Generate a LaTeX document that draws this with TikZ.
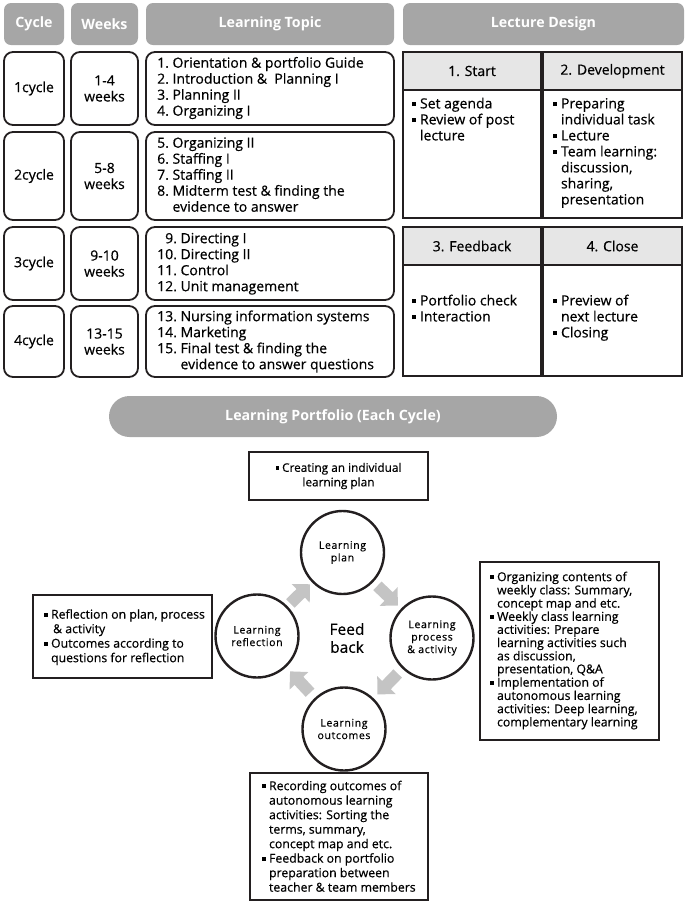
\documentclass[tikz,border=0pt]{standalone}
\usepackage{fontspec}
\setmainfont{Open Sans}[UprightFeatures={FakeBold=0.5}]
\usetikzlibrary{arrows.meta,calc}
\definecolor{hdrgray}{HTML}{A6A6A6}
\definecolor{bandgray}{HTML}{E6E6E6}
\definecolor{arrgray}{HTML}{C4C4C4}
\definecolor{ink}{HTML}{231F20}
\newcommand\bul{\raisebox{0.3ex}{\rule{0.3em}{0.3em}}}
\newcommand\topf{\fontsize{14}{16}\selectfont}
\newcommand\lowf{\fontsize{12.3}{14.5}\selectfont}
\begin{document}
\begin{tikzpicture}[x=1pt,y=-1pt,
  hdr/.style={fill=hdrgray, rounded corners=7pt, text=white, font=\bfseries\fontsize{14.2}{16}\selectfont, inner sep=0pt},
  cell/.style={draw=ink, line width=1.8pt, rounded corners=9pt, font=\topf, align=center, inner sep=0pt},
  band/.style={draw=ink, line width=1.6pt, fill=bandgray, font=\topf, inner sep=0pt},
  body/.style={draw=ink, line width=1.6pt, inner sep=0pt},
  txt/.style={inner sep=0pt, anchor=west, align=left},
  pbox/.style={draw=ink, line width=1.5pt, inner sep=0pt},
  circ/.style={circle, draw=ink, line width=2.4pt, minimum size=83pt, inner sep=0pt, align=center,
    font=\addfontfeatures{LetterSpace=6,FakeBold=1.2}\fontsize{10.5}{12.5}\selectfont},
  blk/.style={arrgray, line width=12pt, -{Triangle[width=25pt,length=13pt]}}
]
\useasboundingbox (0,0) rectangle (686,906);

% header row
\node[hdr, minimum width=60pt, minimum height=42pt] (hcyc) at (34,24) {Cycle};
\node[hdr, minimum width=67pt, minimum height=42pt] (hwk) at (104.5,24) {Weeks};
\node[hdr, minimum width=248pt, minimum height=42pt] (htop) at (270,24) {Learning Topic};
\node[hdr, minimum width=281pt, minimum height=42pt] (hlec) at (543.5,24) {Lecture Design};

% rows
\node[cell, minimum width=60pt, minimum height=73pt] (c1) at (34,88.5) {1cycle};
\node[cell, minimum width=67pt, minimum height=73pt] (w1) at (104.5,88.5) {1-4\\weeks};
\node[cell, minimum width=248pt, minimum height=73pt] (t1) at (270,88.5) {};
\node[txt] (t1x) at (157,88.5) {\topf\begin{tabular}{@{}r@{\ }l@{}}
1. & Orientation \& portfolio Guide\\
2. & Introduction \&\ \ Planning I\\
3. & Planning II\\
4. & Organizing I
\end{tabular}};

\node[cell, minimum width=60pt, minimum height=88pt] (c2) at (34,176) {2cycle};
\node[cell, minimum width=67pt, minimum height=88pt] (w2) at (104.5,176) {5-8\\weeks};
\node[cell, minimum width=248pt, minimum height=88pt] (t2) at (270,176) {};
\node[txt] (t2x) at (157,176.5) {\topf\begin{tabular}{@{}r@{\ }l@{}}
5. & Organizing II\\
6. & Staffing I\\
7. & Staffing II\\
8. & Midterm test \& finding the\\
 & evidence to answer
\end{tabular}};

\node[cell, minimum width=60pt, minimum height=73pt] (c3) at (34,263.5) {3cycle};
\node[cell, minimum width=67pt, minimum height=73pt] (w3) at (104.5,263.5) {9-10\\weeks};
\node[cell, minimum width=248pt, minimum height=73pt] (t3) at (270,263.5) {};
\node[txt] (t3x) at (157,264) {\topf\begin{tabular}{@{}r@{\ }l@{}}
9. & Directing I\\
10. & Directing II\\
11. & Control\\
12. & Unit management
\end{tabular}};

\node[cell, minimum width=60pt, minimum height=71pt] (c4) at (34,341.5) {4cycle};
\node[cell, minimum width=67pt, minimum height=71pt] (w4) at (104.5,341.5) {13-15\\weeks};
\node[cell, minimum width=248pt, minimum height=71pt] (t4) at (270,341.5) {};
\node[txt] (t4x) at (157,342) {\topf\begin{tabular}{@{}r@{\ }l@{}}
13. & Nursing information systems\\
14. & Marketing\\
15. & Final test \& finding the\\
 & evidence to answer questions
\end{tabular}};

% lecture design
\node[body, minimum width=138pt, minimum height=128pt] (sb) at (472,154) {};
\node[band, minimum width=138pt, minimum height=38pt] (sh) at (472,71) {1. Start};
\node[body, minimum width=139pt, minimum height=128pt] (db) at (612.5,154) {};
\node[band, minimum width=139pt, minimum height=38pt] (dh) at (612.5,71) {2. Development};
\node[body, minimum width=138pt, minimum height=111pt] (fb) at (472,320.5) {};
\node[band, minimum width=138pt, minimum height=38pt] (fh) at (472,246) {3. Feedback};
\node[body, minimum width=139pt, minimum height=111pt] (cb) at (612.5,320.5) {};
\node[band, minimum width=139pt, minimum height=38pt] (ch) at (612.5,246) {4. Close};

\node[txt, anchor=north west] (sx) at (412,97) {\topf\begin{tabular}{@{}l@{\ }l@{}}
\bul & Set agenda\\
\bul & Review of post\\
 & lecture
\end{tabular}};
\node[txt, anchor=north west] (dx) at (553,97) {\topf\begin{tabular}{@{}l@{\ }l@{}}
\bul & Preparing\\
 & individual task\\
\bul & Lecture\\
\bul & Team learning:\\
 & discussion,\\
 & sharing,\\
 & presentation
\end{tabular}};
\node[txt, anchor=north west] (fx) at (412,294) {\topf\begin{tabular}{@{}l@{\ }l@{}}
\bul & Portfolio check\\
\bul & Interaction
\end{tabular}};
\node[txt, anchor=north west] (cx) at (553,294) {\topf\begin{tabular}{@{}l@{\ }l@{}}
\bul & Preview of\\
 & next lecture\\
\bul & Closing
\end{tabular}};

% portfolio banner
\node[hdr, minimum width=448pt, minimum height=41pt, rounded corners=20.5pt] (ban) at (333,416.5) {Learning Portfolio (Each Cycle)};

% top box
\node[pbox, minimum width=179pt, minimum height=48pt, align=center, font=\fontsize{11.8}{14.5}\selectfont] (tb) at (338.5,476) {\bul\ Creating an individual\\learning plan};

% circles
\node[circ] (plan) at (342.5,552.5) {Learning\\plan};
\node[circ] (proc) at (432,638) {Learning\\process\\\&\ activity};
\node[circ] (refl) at (257,636) {Learning\\reflection};
\node[circ] (outc) at (344,729) {Learning\\outcomes};
\node[font=\fontsize{15.5}{18}\selectfont, align=center, inner sep=0pt] (fbk) at (347,638) {Feed\\back};

\draw[blk] ($(plan)!0.39!(proc)$) -- ($(plan)!0.62!(proc)$);
\draw[blk] ($(proc)!0.39!(outc)$) -- ($(proc)!0.62!(outc)$);
\draw[blk] ($(outc)!0.39!(refl)$) -- ($(outc)!0.62!(refl)$);
\draw[blk] ($(refl)!0.39!(plan)$) -- ($(refl)!0.62!(plan)$);

% left box
\node[pbox, minimum width=179pt, minimum height=83pt] (lb) at (122.5,636.5) {};
\node[txt] (lbx) at (44,637.5) {\lowf\begin{tabular}{@{}l@{\ }l@{}}
\bul & Reflection on plan, process\\
 & \,\& activity\\
\bul & Outcomes according to\\
 & questions for reflection
\end{tabular}};

% right box
\node[pbox, minimum width=179pt, minimum height=178pt] (rb) at (569.5,651) {};
\node[txt] (rbx) at (490,651) {\fontsize{12.3}{13}\selectfont\begin{tabular}{@{}l@{\ }l@{}}
\bul & Organizing contents of\\
 & weekly class: Summary,\\
 & concept map and etc.\\
\bul & Weekly class learning\\
 & activities: Prepare\\
 & learning activities such\\
 & as discussion,\\
 & presentation, Q\&A\\
\bul & Implementation of\\
 & autonomous learning\\
 & activities: Deep learning,\\
 & complementary learning
\end{tabular}};

% bottom box
\node[pbox, minimum width=178pt, minimum height=127pt] (bb) at (339,836.5) {};
\node[txt] (bbx) at (262,838) {\lowf\begin{tabular}{@{}l@{\ }l@{}}
\bul & Recording outcomes of\\
 & autonomous learning\\
 & activities: Sorting the\\
 & terms, summary,\\
 & concept map and etc.\\
\bul & Feedback on portfolio\\
 & preparation between\\
 & teacher \& team members
\end{tabular}};
\end{tikzpicture}
\end{document}
